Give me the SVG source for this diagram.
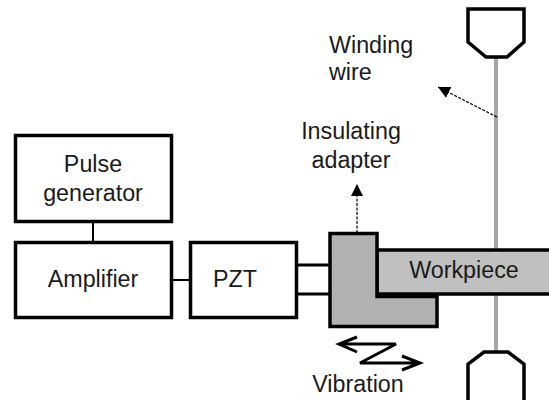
<svg xmlns="http://www.w3.org/2000/svg" width="549" height="400" viewBox="0 0 549 400">
<style>
text{font-family:"Liberation Sans",Arial,sans-serif;font-size:23.300px;fill:#1a1a1a}
.b{fill:#fff;stroke:#000;stroke-width:3.5}
.g{stroke:#000;stroke-width:3.5;stroke-linejoin:miter}
.l{stroke:#000;fill:none}
.d{stroke:#000;fill:none;stroke-width:1.2;stroke-dasharray:3 1.5}
</style>
<defs><marker id="a" markerUnits="userSpaceOnUse" markerWidth="13" markerHeight="13" refX="12" refY="6" orient="auto"><path d="M0 0L12 6L0 12Z" fill="#000"/></marker></defs>
<rect width="549" height="400" fill="#fff"/>
<g id="connectors">
<path class="l" stroke-width="2" d="M93 221V242M172 280H190"/>
<path class="l" stroke-width="3" d="M297 265H330M297 294H330"/>
<path d="M496 57V352" stroke="#a6a6a6" stroke-width="4" fill="none"/>
<path class="d" d="M497 117L438 87" marker-end="url(#a)"/>
<path class="d" d="M357 233V184" marker-end="url(#a)"/>
<path class="l" stroke-width="3" d="M339 344H396L360 363H419M357 337L339 344L357 352M402 356L420 363L402 370"/>
</g>
<g id="pulse-generator"><rect class="b" x="15.500" y="135.500" width="156" height="86"/><text x="93" y="172" text-anchor="middle">Pulse</text><text x="93" y="201" text-anchor="middle">generator</text></g>
<g id="amplifier"><rect class="b" x="15.500" y="242.500" width="156" height="75"/><text x="93" y="287" text-anchor="middle">Amplifier</text></g>
<g id="pzt"><rect class="b" x="190.500" y="242.500" width="106" height="75"/><text x="235" y="287" text-anchor="middle">PZT</text></g>
<g id="workpiece"><path class="g" fill="#c0c0c0" d="M549 250H377V294H549"/><text x="464" y="278" text-anchor="middle">Workpiece</text></g>
<g id="adapter"><path class="g" fill="#b2b2b2" d="M330 233.500H377V296.500H437V326.500H330Z"/></g>
<g id="clamp-top"><path class="b" d="M468 9H524V42L507 57H486L468 42Z"/></g>
<g id="clamp-bottom"><path class="b" d="M468 400V364L484 352H508L524 364V400" /></g>
<text x="329" y="53">Winding</text>
<text x="329" y="80">wire</text>
<text x="351" y="139" text-anchor="middle">Insulating</text>
<text x="351" y="168" text-anchor="middle">adapter</text>
<text x="358" y="392" text-anchor="middle">Vibration</text>
</svg>
